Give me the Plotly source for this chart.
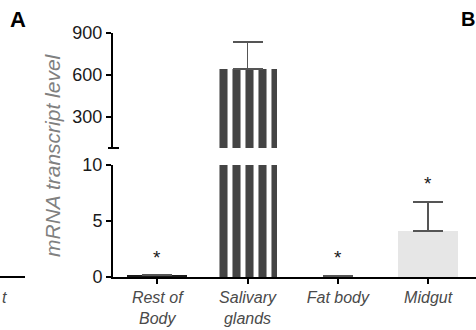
import plotly.graph_objects as go

# ---- data ----
categories = ["Rest of<br>Body", "Salivary<br>glands", "Fat body", "Midgut"]
values = [0.12, 643, 0.04, 4.1]
errors = [0.04, 193, 0.08, 2.6]
star_y = [2.0, None, 2.0, 8.6]
top_ticks = [300, 600, 900]
bottom_ticks = [0, 5, 10]

x_pos = list(range(len(categories)))
bar_colors = ["#1a1a1a", "white", "white", "#e6e6e6"]
pattern_shapes = ["", "|", "", ""]

FONT = "Liberation Sans, Arial, sans-serif"

fig = go.Figure()

for xa, ya in (("x", "y"), ("x2", "y2")):
    fig.add_trace(go.Bar(
        x=x_pos, y=values, xaxis=xa, yaxis=ya,
        width=0.66,
        marker=dict(color=bar_colors, line=dict(width=0),
                    pattern=dict(shape=pattern_shapes, fgcolor="black",
                                 fgopacity=1, size=13, solidity=0.62,
                                 fillmode="overlay")),
        error_y=dict(type="data", array=errors, symmetric=False,
                     arrayminus=[0] * len(errors),
                     color="#555555", thickness=1.6, width=15),
        showlegend=False, hoverinfo="skip",
    ))

W, H = 476, 330
ml, mr, mt, mb = 113, 0, 33, 53
pw, ph = W - ml - mr, H - mt - mb

def px_x(p):
    return (p - ml) / pw

def px_y(p):
    return (H - mb - p) / ph

y_dom = [0, px_y(165)]
y2_dom = [px_y(148), 1]

axis_common = dict(showline=True, linecolor="black", linewidth=2,
                   ticks="outside", ticklen=5, tickwidth=2, tickcolor="black",
                   showgrid=False, zeroline=False)

xrange_ = [-0.49, 3.53]

fig.update_layout(
    width=W, height=H,
    margin=dict(l=ml, r=mr, t=mt, b=mb, pad=0),
    paper_bgcolor="white", plot_bgcolor="white",
    font=dict(family=FONT, color="#1a1a1a"),
    bargap=0,
    xaxis=dict(**axis_common, anchor="y", domain=[0, 1], range=xrange_,
               tickvals=x_pos, ticktext=categories,
               tickfont=dict(size=16, style="italic", color="#4a4a4a")),
    xaxis2=dict(anchor="y2", domain=[0, 1], range=xrange_, matches="x",
                visible=False),
    yaxis=dict(**axis_common, anchor="x", domain=y_dom, range=[0, 10],
               tickvals=bottom_ticks, tickfont=dict(size=18, color="#1a1a1a")),
    yaxis2=dict(**axis_common, anchor="x2", domain=y2_dom, range=[79, 900],
                tickvals=top_ticks, tickfont=dict(size=18, color="#1a1a1a")),
)

# break cap at bottom of top segment
fig.add_shape(type="line", xref="paper", yref="paper",
              x0=px_x(108), x1=px_x(119), y0=y2_dom[0], y1=y2_dom[0],
              line=dict(color="black", width=2))

# remnant of neighbouring panel at far left
fig.add_shape(type="line", xref="paper", yref="paper",
              x0=px_x(0), x1=px_x(25), y0=0, y1=0,
              line=dict(color="black", width=2))

annotations = []
for xi, sy in zip(x_pos, star_y):
    if sy is None:
        continue
    annotations.append(dict(x=xi, y=sy, xref="x", yref="y", text="*",
                            showarrow=False, yshift=-3,
                            xanchor="center", yanchor="middle",
                            font=dict(size=19, color="#1a1a1a")))

annotations += [
    dict(x=px_x(52), y=px_y(155), xref="paper", yref="paper",
         text="mRNA transcript level", textangle=-90, showarrow=False,
         xanchor="center", yanchor="middle",
         font=dict(size=21, style="italic", color="#808080")),
    dict(x=px_x(18), y=px_y(19), xref="paper", yref="paper", text="<b>A</b>",
         xanchor="center", yanchor="middle",
         showarrow=False, font=dict(size=22, color="black")),
    dict(x=px_x(459), y=px_y(19), xref="paper", yref="paper", text="<b>B</b>",
         xanchor="left", yanchor="middle",
         showarrow=False, font=dict(size=20, color="black")),
    dict(x=px_x(9), y=px_y(297), xref="paper", yref="paper", text="t",
         xanchor="right", yanchor="middle", showarrow=False,
         font=dict(size=16, style="italic", color="#4a4a4a")),
]
fig.update_layout(annotations=annotations)

fig.write_html("out.html")
